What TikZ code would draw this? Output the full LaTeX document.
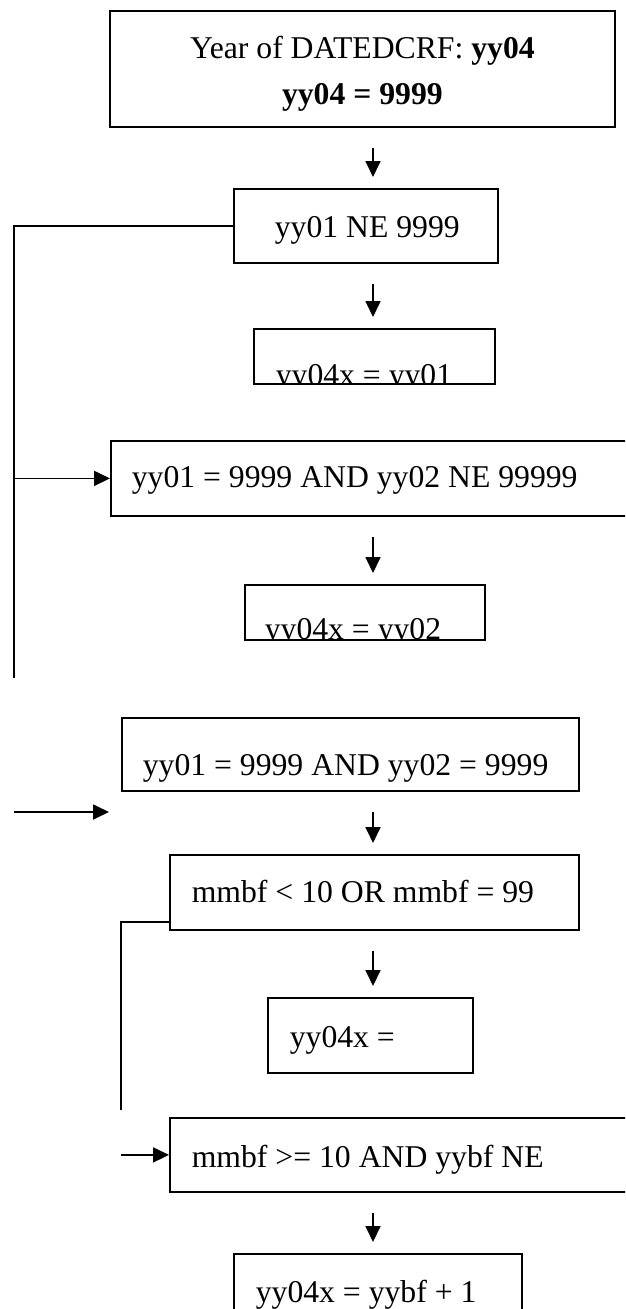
\documentclass[tikz,border=0pt]{standalone}
\usepackage{fontspec}
\setmainfont{Liberation Serif}
\usetikzlibrary{arrows.meta}

\newcommand{\boxtext}[3][base west]{%
  \node[anchor=#1,draw=none,inner sep=0pt,minimum width=0pt,minimum height=0pt]
    at ([shift={#2}]path picture bounding box.north west) {#3};}

\tikzset{
  flowbox/.style={draw,line width=1.8pt,rectangle,anchor=north west,inner sep=0pt},
  flowarrow/.style={line width=1.8pt,-{Triangle[length=16pt,width=15pt]}},
  stem/.style={flowarrow,shorten <=20pt,shorten >=11pt},
  branch/.style={line width=1.8pt}
}

\begin{document}
\begin{tikzpicture}[x=1pt,y=-1pt,font=\fontsize{31.7}{38}\selectfont]
  \useasboundingbox (0,0) rectangle (625,1309);
  \clip (0,0) rectangle (625,1309);
  \coordinate (spine) at (373,0);
  % decision boxes
  \node[flowbox,minimum width=505pt,minimum height=116pt,path picture={
      \boxtext[base]{(252.5,48)}{Year of DATEDCRF: \textbf{yy04}}
      \boxtext[base]{(252.5,94)}{\textbf{yy04 = 9999}}}] (datecrf) at (109,10) {};
  \node[flowbox,minimum width=264pt,minimum height=74pt,
      path picture={\boxtext{(40,49)}{yy01 NE 9999}}] (ne01) at (233,188) {};
  \node[flowbox,minimum width=241pt,minimum height=55pt,
      path picture={\boxtext{(21,57)}{yy04x = yy01}}] (set01) at (253,328) {};
  \node[flowbox,minimum width=530pt,minimum height=75pt,
      path picture={\boxtext{(20,47)}{yy01 = 9999 AND yy02 NE 99999}}] (and02) at (110,440) {};
  \node[flowbox,minimum width=240pt,minimum height=55pt,
      path picture={\boxtext{(19,55)}{yy04x = yy02}}] (set02) at (244,584) {};
  \node[flowbox,minimum width=457pt,minimum height=73pt,
      path picture={\boxtext{(20,58)}{yy01 = 9999 AND yy02 = 9999}}] (both99) at (121,717) {};
  \node[flowbox,minimum width=409pt,minimum height=75pt,
      path picture={\boxtext{(21,48)}{mmbf < 10 OR mmbf = 99}}] (mmlow) at (169,854) {};
  \node[flowbox,minimum width=205pt,minimum height=75pt,
      path picture={\boxtext{(21,50)}{yy04x =}}] (setnone) at (267,997) {};
  \node[flowbox,minimum width=470pt,minimum height=74pt,
      path picture={\boxtext{(21,50)}{mmbf >= 10 AND yybf NE}}] (mmhigh) at (169,1117) {};
  \node[flowbox,minimum width=288pt,minimum height=80pt,
      path picture={\boxtext{(21,49)}{yy04x = yybf + 1}}] (setbf) at (233,1253) {};
  % down arrows
  \draw[stem] (datecrf.south -| spine) -- (ne01.north -| spine);
  \draw[stem] (ne01.south -| spine) -- (set01.north -| spine);
  \draw[stem] (and02.south -| spine) -- (set02.north -| spine);
  \draw[stem] (both99.south -| spine) -- (mmlow.north -| spine);
  \draw[stem] (mmlow.south -| spine) -- (setnone.north -| spine);
  \draw[stem] (mmhigh.south -| spine) -- (setbf.north -| spine);
  % side branches
  \coordinate (trunkend) at (14,678);
  \draw[branch] (ne01.west) -| (trunkend);
  \draw[flowarrow] (trunkend |- and02.west) -- (and02.west);
  \coordinate (strayL) at (14,812);
  \coordinate (strayR) at (109,812);
  \draw[flowarrow] (strayL) -- (strayR);
  \coordinate (branchend) at (121,1110);
  \draw[branch] ([yshift=9pt]mmlow.south west) -| (branchend);
  \draw[flowarrow] (branchend |- mmhigh.west) -- (mmhigh.west);
\end{tikzpicture}
\end{document}
